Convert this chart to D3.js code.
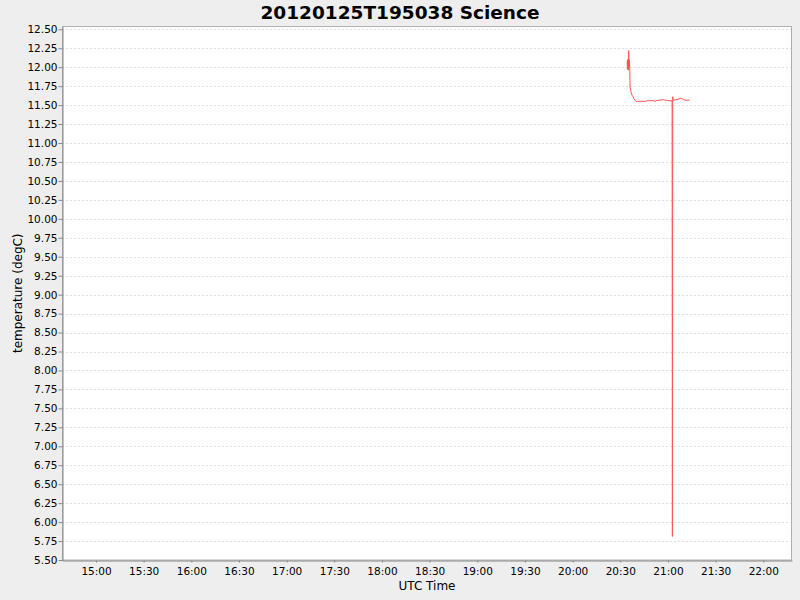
<!DOCTYPE html>
<html>
<head>
<meta charset="utf-8">
<script src="https://cdn.jsdelivr.net/npm/d3@7"></script>
<style>
  body { margin: 0; background: #eeeeee; }
  svg { display: block; font-family: "DejaVu Sans", sans-serif; }
</style>
</head>
<body>
<div id="chart"></div>
<script>
//chart title and axis labels
var chartTitle = "20120125T195038 Science";
var xLabel = "UTC Time";
var yLabel = "temperature (degC)";

//sample times (UTC, same day) and temperatures
var sampleTimes = [
  "20:34:20", "20:34:30", "20:34:40", "20:34:50", "20:35:00", "20:35:10",
  "20:35:18", "20:35:30", "20:35:45", "20:35:58", "20:36:09", "20:36:48",
  "20:37:26", "20:38:03", "20:38:41", "20:39:20", "20:39:56", "20:46:13",
  "20:46:30", "20:51:17", "20:51:55", "20:52:33", "20:56:55", "21:00:04",
  "21:02:36", "21:02:47", "21:03:00", "21:03:25", "21:04:29", "21:06:23",
  "21:08:16", "21:09:32", "21:10:47", "21:13:36"
];
var temperatures = [
  12.08, 11.97, 12.10, 11.98, 12.11, 11.96,
  12.22, 12.00, 12.09, 11.96, 11.74, 11.67,
  11.63, 11.61, 11.58, 11.565, 11.55, 11.55,
  11.558, 11.558, 11.547, 11.558, 11.572, 11.558,
  11.558, 5.81, 11.61, 11.565, 11.569, 11.578,
  11.592, 11.578, 11.565, 11.565
];

//axis ranges and tick values
var timeStart = "14:38:36", timeEnd = "22:18:04";
var tempMin = 5.5, tempMax = 12.537;
var tempTicks = d3.range(0, 29).map(function(i) { return 5.5 + i * 0.25; });

var width = 800, height = 600;
var margin = {top: 26.5, right: 8, bottom: 40, left: 62};

var parseTime = function(s) { return d3.utcParse("%Y-%m-%d %H:%M:%S")("2012-01-25 " + s); };

var data = sampleTimes.map(function(t, i) {
  return {time: parseTime(t), temp: temperatures[i]};
});

var svg = d3.select("#chart").append("svg")
  .attr("width", width)
  .attr("height", height);

var x = d3.scaleUtc()
  .domain([parseTime(timeStart), parseTime(timeEnd)])
  .range([margin.left, width - margin.right]);

var y = d3.scaleLinear()
  .domain([tempMin, tempMax])
  .range([height - margin.bottom, margin.top]);

//plot background
svg.append("rect")
  .attr("x", margin.left)
  .attr("y", margin.top)
  .attr("width", width - margin.left - margin.right)
  .attr("height", height - margin.top - margin.bottom)
  .attr("fill", "white");

//horizontal dashed gridlines
svg.append("g")
  .selectAll("line")
  .data(tempTicks)
  .enter().append("line")
  .attr("x1", margin.left)
  .attr("x2", width - margin.right)
  .attr("y1", function(d) { return Math.round(y(d)) + 0.5; })
  .attr("y2", function(d) { return Math.round(y(d)) + 0.5; })
  .attr("stroke", "#dedede")
  .attr("stroke-width", 1)
  .attr("stroke-dasharray", "2,2");

//plot outline
svg.append("rect")
  .attr("x", margin.left + 0.5)
  .attr("y", margin.top)
  .attr("width", width - margin.left - margin.right - 1)
  .attr("height", height - margin.top - margin.bottom)
  .attr("fill", "none")
  .attr("stroke", "#b0b0b0")
  .attr("stroke-width", 1);

//temperature line
var line = d3.line()
  .x(function(d) { return x(d.time); })
  .y(function(d) { return y(d.temp); });

svg.append("path")
  .datum(data)
  .attr("fill", "none")
  .attr("stroke", "#ff5555")
  .attr("stroke-width", 1)
  .attr("d", line);

//x axis
var xAxis = svg.append("g")
  .attr("transform", "translate(0," + (height - margin.bottom + 0.5) + ")")
  .call(d3.axisBottom(x)
    .ticks(d3.utcMinute.every(30))
    .tickFormat(d3.utcFormat("%H:%M"))
    .tickSizeInner(2)
    .tickSizeOuter(0)
    .tickPadding(5));

//y axis
var yAxis = svg.append("g")
  .attr("transform", "translate(" + (margin.left + 0.5) + ",0)")
  .call(d3.axisLeft(y)
    .tickValues(tempTicks)
    .tickFormat(d3.format(".2f"))
    .tickSizeInner(4)
    .tickSizeOuter(0)
    .tickPadding(1));

[xAxis, yAxis].forEach(function(a) {
  a.select(".domain").attr("stroke", "#888888");
  a.selectAll(".tick line").attr("stroke", "#888888");
  a.selectAll(".tick text")
    .attr("fill", "#000")
    .style("font-family", "DejaVu Sans")
    .style("font-size", "10.5px");
});

//title
svg.append("text")
  .attr("x", width / 2)
  .attr("y", 19)
  .attr("text-anchor", "middle")
  .style("font-weight", "bold")
  .style("font-size", "18.5px")
  .text(chartTitle);

//axis labels
svg.append("text")
  .attr("x", (margin.left + width - margin.right) / 2)
  .attr("y", 590)
  .attr("text-anchor", "middle")
  .style("font-size", "12px")
  .text(xLabel);

svg.append("text")
  .attr("transform", "translate(22," + ((margin.top + height - margin.bottom) / 2) + ") rotate(-90)")
  .attr("text-anchor", "middle")
  .style("font-size", "12px")
  .text(yLabel);
</script>
</body>
</html>
